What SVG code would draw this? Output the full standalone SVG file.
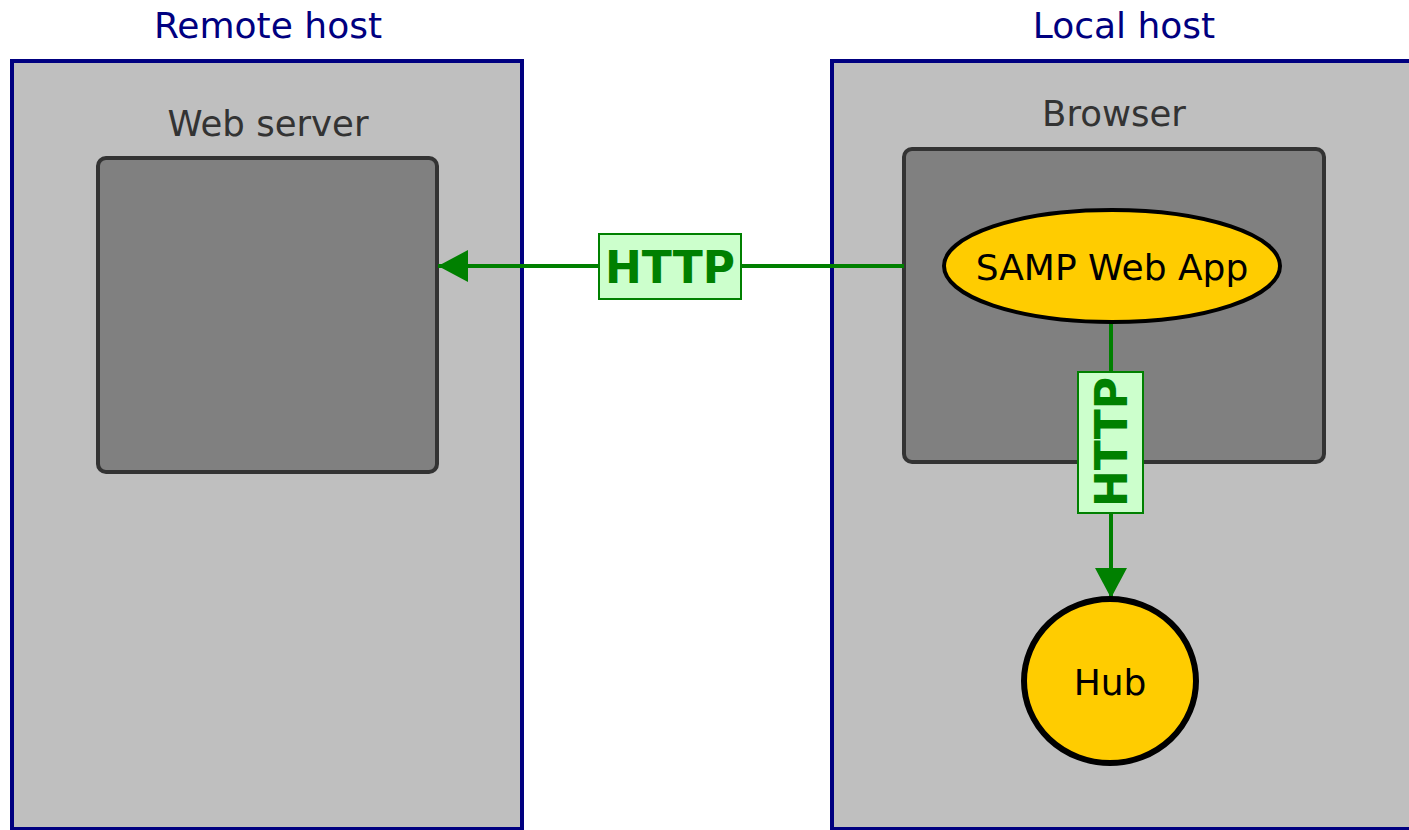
<svg xmlns="http://www.w3.org/2000/svg" width="1409" height="830" viewBox="0 0 1409 830">
  <defs>
    <marker id="arrow" viewBox="0 0 30 32" refX="30" refY="16" markerWidth="30" markerHeight="32" markerUnits="userSpaceOnUse" orient="auto">
      <path d="M0,0 L30,16 L0,32 Z" fill="#008000"/>
    </marker>
  </defs>
  <style>
    text { font-family: "DejaVu Sans", "Noto Sans", sans-serif; text-anchor: middle; }
    .host { fill: #bfbfbf; stroke: #000080; stroke-width: 4; }
    .host-title { fill: #000080; font-size: 36px; }
    .container { fill: #808080; stroke: #333333; stroke-width: 4; }
    .container-title { fill: #333333; font-size: 35.5px; }
    .app { fill: #ffcc00; stroke: #000000; }
    .app-label { fill: #000000; font-size: 36px; }
    .link { stroke: #008000; stroke-width: 4; fill: none; }
    .link-box { fill: #ccffcc; stroke: #008000; stroke-width: 2; }
    .link-label { fill: #008000; font-size: 44px; font-weight: bold; }
  </style>
  <rect width="1409" height="830" fill="#ffffff"/>

  <g id="remote-host">
    <rect class="host" x="12" y="61" width="510" height="768"/>
    <text class="host-title" x="268" y="38">Remote host</text>
  </g>

  <g id="local-host">
    <rect class="host" x="832" y="61" width="600" height="768"/>
    <text class="host-title" x="1124" y="38">Local host</text>
  </g>

  <g id="web-server">
    <text class="container-title" x="268" y="136">Web server</text>
    <rect class="container" x="98" y="158" width="339" height="314" rx="8"/>
  </g>

  <g id="browser">
    <text class="container-title" x="1114" y="126">Browser</text>
    <rect class="container" x="904" y="149" width="420" height="313" rx="8"/>
  </g>

  <g id="connectors">
    <line class="link" x1="904" y1="266" x2="438" y2="266" marker-end="url(#arrow)"/>
    <rect class="link-box" x="599" y="234" width="142" height="65"/>
    <text class="link-label" x="670" y="283">HTTP</text>

    <line class="link" x1="1111" y1="322" x2="1111" y2="598" marker-end="url(#arrow)"/>
    <rect class="link-box" x="1078" y="372" width="65" height="141"/>
    <text class="link-label" transform="translate(1127,442) rotate(-90)" x="0" y="0">HTTP</text>
  </g>

  <g id="samp-web-app">
    <ellipse class="app" cx="1112" cy="266" rx="168" ry="56" stroke-width="4"/>
    <text class="app-label" x="1112" y="280">SAMP Web App</text>
  </g>

  <g id="hub">
    <ellipse class="app" cx="1110" cy="681" rx="86" ry="82" stroke-width="6"/>
    <text class="app-label" x="1110" y="695">Hub</text>
  </g>
</svg>
